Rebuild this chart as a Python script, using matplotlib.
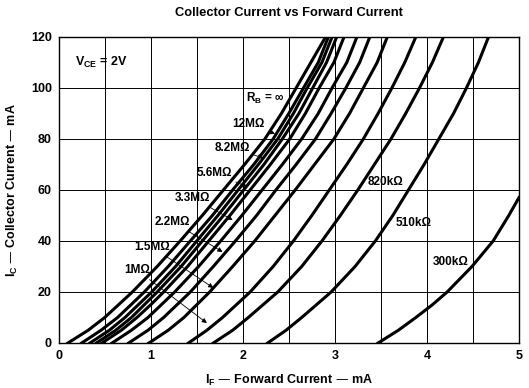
import matplotlib
matplotlib.use("Agg")
import matplotlib.pyplot as plt

plt.rcParams.update({
    "font.family": ["Liberation Sans", "DejaVu Sans"],
    "font.weight": "bold",
    "axes.labelweight": "bold",
    "mathtext.default": "regular",
})

# collector current levels (mA) at which forward current was read
ic = [0, 5, 10, 15, 20, 30, 40, 50, 60, 70, 80, 90, 100, 110, 120]
# forward current (mA) of each curve at those levels
if_inf  = [0.10, 0.32, 0.50, 0.65, 0.80, 1.07, 1.32, 1.56, 1.79, 2.02, 2.24, 2.42, 2.58, 2.74, 2.90]
if_c2   = [0.25, 0.46, 0.64, 0.785, 0.93, 1.19, 1.43, 1.67, 1.89, 2.12, 2.33, 2.50, 2.66, 2.82, 2.93]
if_12m  = [0.34, 0.55, 0.72, 0.865, 1.01, 1.27, 1.50, 1.73, 1.95, 2.17, 2.38, 2.55, 2.70, 2.86, 2.97]
if_8m2  = [0.41, 0.62, 0.79, 0.93, 1.07, 1.33, 1.56, 1.79, 2.01, 2.23, 2.43, 2.61, 2.76, 2.91, 3.02]
if_5m6  = [0.47, 0.68, 0.85, 1.00, 1.14, 1.40, 1.63, 1.86, 2.08, 2.30, 2.51, 2.68, 2.83, 2.99, 3.10]
if_3m3  = [0.58, 0.79, 0.97, 1.115, 1.26, 1.52, 1.76, 1.99, 2.21, 2.43, 2.64, 2.82, 2.97, 3.13, 3.24]
if_2m2  = [0.76, 0.97, 1.14, 1.285, 1.43, 1.68, 1.92, 2.15, 2.36, 2.58, 2.79, 2.96, 3.12, 3.27, 3.38]
if_1m5  = [0.98, 1.19, 1.36, 1.50, 1.64, 1.89, 2.13, 2.35, 2.57, 2.78, 2.99, 3.16, 3.31, 3.46, 3.57]
if_1m   = [1.41, 1.61, 1.78, 1.93, 2.08, 2.33, 2.55, 2.75, 2.94, 3.13, 3.31, 3.47, 3.62, 3.76, 3.88]
if_820k = [1.68, 1.89, 2.06, 2.22, 2.38, 2.64, 2.86, 3.06, 3.25, 3.43, 3.61, 3.77, 3.92, 4.06, 4.18]
if_510k = [2.27, 2.47, 2.64, 2.80, 2.96, 3.22, 3.44, 3.63, 3.80, 3.97, 4.13, 4.29, 4.43, 4.56, 4.67]
# 300k curve leaves the plot through the right edge
ic_300k = [0, 5, 10, 15, 20, 30, 40, 50, 57]
if_300k = [3.47, 3.69, 3.88, 4.06, 4.22, 4.49, 4.72, 4.89, 5.00]

curves = [if_inf, if_c2, if_12m, if_8m2, if_5m6, if_3m3, if_2m2,
          if_1m5, if_1m, if_820k, if_510k]

fig = plt.figure(figsize=(5.29, 3.88), dpi=100)
ax = fig.add_axes([0.111, 0.116, 0.870, 0.789])

for c in curves:
    ax.plot(c, ic, color="black", lw=2.2, solid_joinstyle="round")
ax.plot(if_300k, ic_300k, color="black", lw=2.2, solid_joinstyle="round")

ax.set_xlim(0, 5)
ax.set_ylim(0, 120)
ax.set_xticks([0, 1, 2, 3, 4, 5])
ax.set_xticks([0.5, 1.5, 2.5, 3.5, 4.5], minor=True)
ax.set_yticks([0, 20, 40, 60, 80, 100, 120])
ax.grid(True, which="both", color="black", lw=0.7)
ax.set_axisbelow(True)
ax.tick_params(which="both", length=0, labelsize=9, pad=5)
for s in ax.spines.values():
    s.set_linewidth(1.0)

ax.set_xlabel("I$_F$ — Forward Current — mA", fontsize=9, fontweight="bold", labelpad=8)
ax.set_ylabel("I$_C$ — Collector Current — mA", fontsize=9, fontweight="bold", labelpad=8)
ax.set_title("Collector Current vs Forward Current", fontsize=9.3,
             fontweight="bold", pad=15)

ax.text(0.18, 110, "V$_{CE}$ = 2V", fontsize=9, va="center")
ax.text(2.03, 96, "R$_B$ = ∞", fontsize=8.5, va="center")

arrow = dict(arrowstyle="-|>", lw=0.6, color="black", mutation_scale=7,
             shrinkA=1, shrinkB=0)
# (label, text right end, arrow tip)
lab_names = ["12MΩ", "8.2MΩ", "5.6MΩ", "3.3MΩ", "2.2MΩ", "1.5MΩ", "1MΩ"]
lab_text = [(2.24, 86), (2.08, 76.5), (1.88, 66.7), (1.65, 56.9),
            (1.43, 47.5), (1.21, 37.6), (0.99, 28.6)]
lab_tip = [(2.35, 82), (2.22, 72.5), (2.05, 61.2), (1.89, 48.2),
           (1.78, 35.7), (1.68, 21.6), (1.61, 7.8)]
for name, t, p in zip(lab_names, lab_text, lab_tip):
    ax.annotate(name, xy=p, xytext=t, fontsize=8.5, ha="right", va="center",
                arrowprops=arrow)

ax.text(3.36, 63, "820kΩ", fontsize=8.5, va="center")
ax.text(3.66, 47, "510kΩ", fontsize=8.5, va="center")
ax.text(4.06, 31.8, "300kΩ", fontsize=8.5, va="center")

fig.savefig("out.png", dpi=100)
